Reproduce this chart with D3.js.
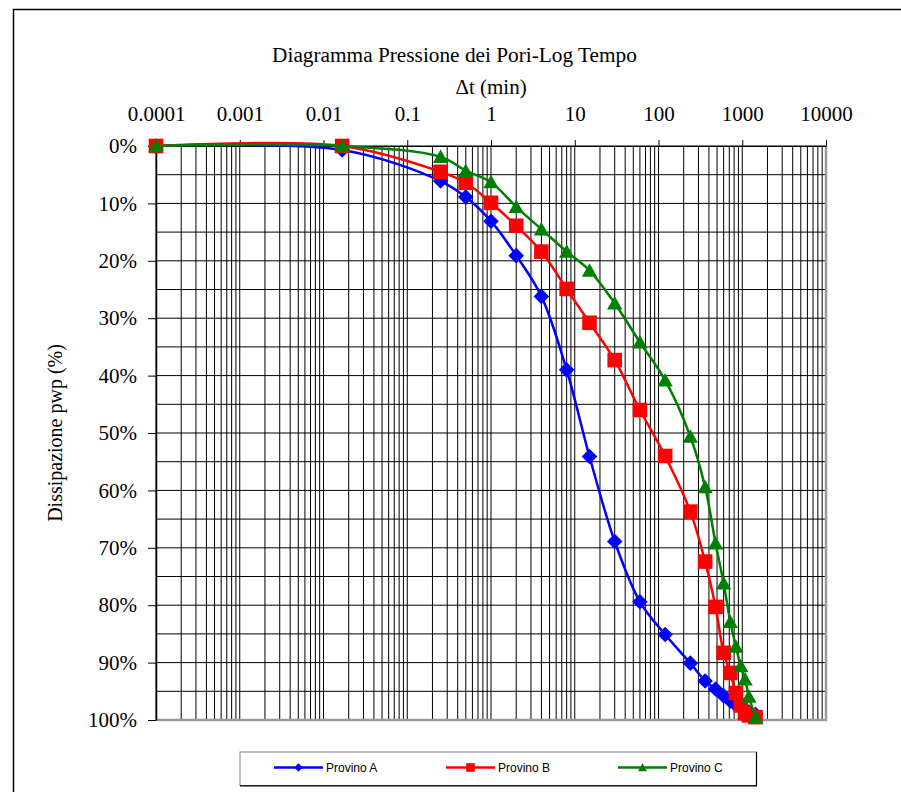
<!DOCTYPE html>
<html>
<head>
<meta charset="utf-8">
<script src="https://cdn.jsdelivr.net/npm/d3@7"></script>
<style>
  html, body { margin: 0; padding: 0; background: #fff; }
  svg { display: block; }
</style>
</head>
<body>
<svg id="chart" width="901" height="792"></svg>
<script>
// ---- DATA ----
const times = [0.0001, 0.0167, 0.25, 0.5, 1, 2, 4, 8, 15, 30, 60, 120, 240, 360, 480, 600, 720, 840, 960, 1080, 1200, 1440];
const provinoA = [0, 0.7, 6.1, 8.9, 13.1, 19.1, 26.2, 39.0, 54.1, 68.9, 79.4, 85.1, 90.1, 93.2, 94.6, 95.8, 96.7, 97.4, 97.9, 98.3, 98.6, 99.0];
const provinoB = [0, 0, 4.5, 6.4, 9.9, 13.9, 18.4, 24.9, 30.8, 37.3, 46.0, 54.0, 63.7, 72.4, 80.3, 88.3, 91.8, 95.3, 97.4, 98.8, 99.2, 99.5];
const provinoC = [0, 0, 1.9, 4.3, 6.3, 10.6, 14.5, 18.4, 21.7, 27.4, 34.2, 40.8, 50.6, 59.4, 69.2, 76.2, 82.9, 87.2, 90.6, 92.9, 95.9, 99.5];
const seriesNames = ["Provino A", "Provino B", "Provino C"];
const xTickValues = [0.0001, 0.001, 0.01, 0.1, 1, 10, 100, 1000, 10000];
const xTickLabels = ["0.0001", "0.001", "0.01", "0.1", "1", "10", "100", "1000", "10000"];
const yTickValues = [0, 10, 20, 30, 40, 50, 60, 70, 80, 90, 100];
const titleText = "Diagramma Pressione dei Pori-Log Tempo";
const xLabelText = "\u0394t (min)";
const yLabelText = "Dissipazione pwp (%)";

// ---- LAYOUT ----
const svg = d3.select("#chart");
const L = 156, R = 826, T = 146, B = 720;
const x = d3.scaleLog().domain([1e-4, 1e4]).range([L, R]);
const y = d3.scaleLinear().domain([0, 100]).range([T, B]);
const serif = "'Liberation Serif', 'Times New Roman', serif";
const sans = "'Liberation Sans', Arial, sans-serif";

// outer chart border
svg.append("rect").attr("x", 13.5).attr("y", 9.5).attr("width", 950).attr("height", 850)
  .attr("fill", "#fff").attr("stroke", "#000").attr("stroke-width", 1.5);

// gridlines
const grid = svg.append("g").attr("stroke", "#000").attr("stroke-width", 1);
const yGrid = d3.range(0, 101, 5);
grid.selectAll("line.h").data(yGrid).join("line").attr("class", "h")
  .attr("x1", L).attr("x2", R).attr("y1", d => y(d)).attr("y2", d => y(d));
const xGrid = [];
for (let e = -4; e < 4; e++) for (let m = 1; m <= 9; m++) xGrid.push(m * Math.pow(10, e));
xGrid.push(1e4);
grid.selectAll("line.v").data(xGrid).join("line").attr("class", "v")
  .attr("x1", d => x(d)).attr("x2", d => x(d)).attr("y1", T).attr("y2", B);

// plot area right/bottom border (gray)
svg.append("line").attr("x1", R).attr("x2", R).attr("y1", T).attr("y2", B + 1)
  .attr("stroke", "#9a9a9a").attr("stroke-width", 2.5);
svg.append("line").attr("x1", L).attr("x2", R + 1).attr("y1", B).attr("y2", B)
  .attr("stroke", "#9a9a9a").attr("stroke-width", 2.5);

// top axis (decade ticks)
const xAxis = d3.axisTop(x).tickValues(xTickValues)
  .tickFormat((d, i) => xTickLabels[i]).tickSizeInner(6).tickSizeOuter(0).tickPadding(19);
const gx = svg.append("g").attr("transform", `translate(0,${T})`).call(xAxis);
gx.select(".domain").attr("stroke", "#000");
gx.selectAll(".tick line").attr("stroke", "#000");
gx.selectAll("text").attr("font-family", serif).attr("font-size", 21).attr("fill", "#000");

// left axis
const yAxis = d3.axisLeft(y).tickValues(yTickValues).tickFormat(d => d + "%")
  .tickSizeInner(8).tickSizeOuter(0).tickPadding(11);
const gy = svg.append("g").attr("transform", `translate(${L},0)`).call(yAxis);
gy.select(".domain").attr("stroke", "#000").attr("stroke-width", 1.5);
gy.selectAll(".tick line").attr("stroke", "#000");
gy.selectAll("text").attr("font-family", serif).attr("font-size", 21).attr("fill", "#000");

// titles
svg.append("text").attr("x", 454.5).attr("y", 62).attr("text-anchor", "middle")
  .attr("font-family", serif).attr("font-size", 21.3).text(titleText);
svg.append("text").attr("x", 491).attr("y", 94).attr("text-anchor", "middle")
  .attr("font-family", serif).attr("font-size", 21).text(xLabelText);
svg.append("text").attr("transform", "translate(62,433) rotate(-90)").attr("text-anchor", "middle")
  .attr("font-family", serif).attr("font-size", 20).text(yLabelText);

// series
const colors = ["#0000ff", "#ff0000", "#008000"];
const seriesVals = [provinoA, provinoB, provinoC];
const line = d3.line().x(d => x(d[0])).y(d => y(d[1])).curve(d3.curveCatmullRom.alpha(0.5));

function markerPath(k, s) {
  if (k === 0) return `M0,${-s}L${s},0L0,${s}L${-s},0Z`;
  if (k === 1) return `M${-s},${-s}H${s}V${s}H${-s}Z`;
  return `M0,${-s * 1.0}L${s * 1.05},${s * 0.85}L${-s * 1.05},${s * 0.85}Z`;
}

seriesVals.forEach((vals, k) => {
  const pts = times.map((t, i) => [t, vals[i]]);
  const g = svg.append("g");
  g.append("path").attr("d", line(pts)).attr("fill", "none")
    .attr("stroke", colors[k]).attr("stroke-width", 2.5);
  const size = [7.8, 7.3, 7.3][k];
  g.selectAll("path.m").data(pts).join("path").attr("class", "m")
    .attr("transform", d => `translate(${x(d[0])},${y(d[1])})`)
    .attr("d", markerPath(k, size)).attr("fill", colors[k]);
});

// legend
const lg = svg.append("g");
lg.append("rect").attr("x", 240).attr("y", 752).attr("width", 516.5).attr("height", 33.5)
  .attr("fill", "#fff").attr("stroke", "#808080").attr("stroke-width", 1);
lg.append("line").attr("x1", 756.5).attr("x2", 756.5).attr("y1", 752).attr("y2", 786)
  .attr("stroke", "#000").attr("stroke-width", 1.2);
lg.append("line").attr("x1", 240).attr("x2", 757).attr("y1", 785.8).attr("y2", 785.8)
  .attr("stroke", "#000").attr("stroke-width", 1.2);
const legX = [274, 446, 618];
seriesNames.forEach((name, k) => {
  const cx = legX[k];
  const cy = 767.5;
  lg.append("line").attr("x1", cx).attr("x2", cx + 49).attr("y1", cy).attr("y2", cy)
    .attr("stroke", colors[k]).attr("stroke-width", 2.5);
  lg.append("path").attr("transform", `translate(${cx + 24.5},${cy})`)
    .attr("d", markerPath(k, 4.3)).attr("fill", colors[k]);
  lg.append("text").attr("x", cx + 52).attr("y", cy + 4.5)
    .attr("font-family", sans).attr("font-size", 12).attr("fill", "#000").text(name);
});
</script>
</body>
</html>
